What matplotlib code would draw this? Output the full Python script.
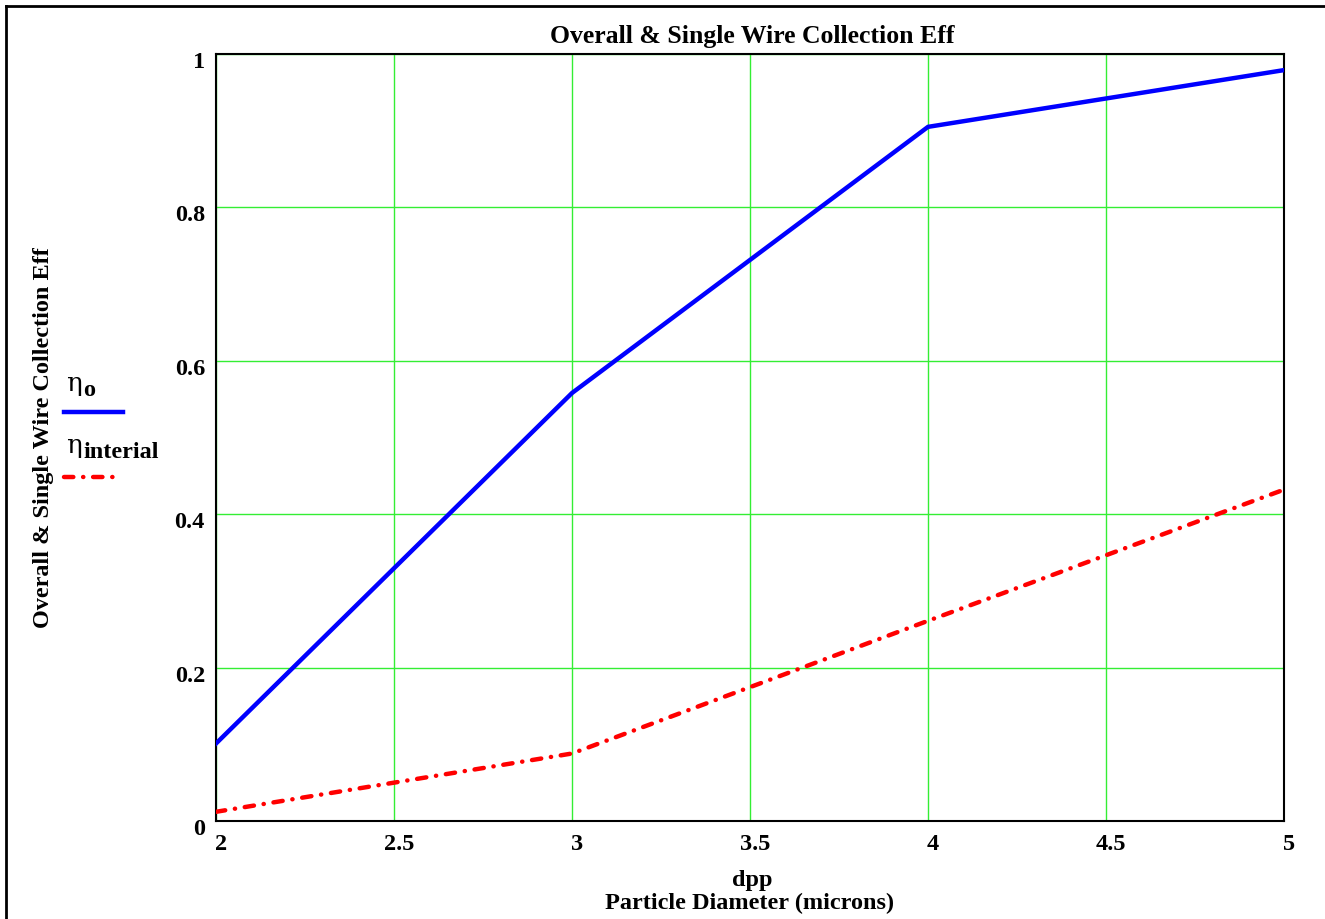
import matplotlib
matplotlib.use("Agg")
import matplotlib.pyplot as plt
import matplotlib.transforms as mtransforms
from matplotlib.lines import Line2D

# ---- data ----
dpp = [2, 3, 4, 5]
eta_o = [0.101, 0.558, 0.905, 0.979]
eta_interial = [0.012, 0.088, 0.261, 0.432]
x_ticks = [2, 2.5, 3, 3.5, 4, 4.5, 5]
x_tick_labels = ["2", "2.5", "3", "3.5", "4", "4.5", "5"]
y_ticks = [0, 0.2, 0.4, 0.6, 0.8, 1]
y_tick_labels = ["0", "0.2", "0.4", "0.6", "0.8", "1"]

plt.rcParams['font.family'] = ['Liberation Serif', 'DejaVu Serif']
plt.rcParams['font.weight'] = 'bold'

FS = 17.5
W, H = 1325, 920
fig = plt.figure(figsize=(W / 100, H / 100), dpi=100)
ax = fig.add_axes([216 / W, 1 - 822 / H, (1284 - 216) / W, (822 - 55) / H])

ax.plot(dpp, eta_o, color='#0000ff', lw=3.2, solid_joinstyle='miter', zorder=3)
ax.plot(dpp, eta_interial, color='#ff0000', lw=3.2,
        linestyle=(0, (2.1, 2.2, 0.05, 2.2)), dash_capstyle='round', zorder=3)

ax.set_xlim(2, 5)
ax.set_ylim(0, 1)
ax.set_xticks(x_ticks)
ax.set_xticklabels(x_tick_labels, fontsize=FS, fontweight='bold')
ax.set_yticks(y_ticks)
ax.set_yticklabels(y_tick_labels, fontsize=FS, fontweight='bold')
ax.tick_params(axis='both', length=0)
ax.tick_params(axis='x', pad=9)
ax.tick_params(axis='y', pad=8)
ax.grid(True, color='#33ee33', lw=1.0)
for s in ax.spines.values():
    s.set_color('black')
    s.set_linewidth(1.5)

# label offsets like reference
dx = mtransforms.ScaledTranslation(5 / 100, 0, fig.dpi_scale_trans)
for lab in ax.get_xticklabels():
    lab.set_transform(lab.get_transform() + dx)
dy = mtransforms.ScaledTranslation(0, -5 / 100, fig.dpi_scale_trans)
for lab in ax.get_yticklabels():
    lab.set_transform(lab.get_transform() + dy)

# title and axis labels
fig.text(752 / W, 1 - 37 / H, "Overall & Single Wire Collection Eff",
         ha='center', va='center', fontsize=18.5, fontweight='bold')
fig.text(752 / W, 1 - 881 / H, "dpp", ha='center', va='center',
         fontsize=FS, fontweight='bold')
fig.text(750 / W, 1 - 903 / H, "Particle Diameter (microns)", ha='center',
         va='center', fontsize=FS, fontweight='bold')
fig.text(44 / W, 1 - 438 / H, "Overall & Single Wire Collection Eff",
         ha='center', va='center', rotation=90, fontsize=FS, fontweight='bold')

# legend (left side)
fig.text(66 / W, 1 - 384 / H, "η", ha='left', va='center', fontsize=19,
         fontweight='normal', family=['DejaVu Serif'])
fig.text(83 / W, 1 - 390 / H, "o", ha='left', va='center', fontsize=FS,
         fontweight='bold')
fig.add_artist(Line2D([64 / W, 123 / W], [1 - 413 / H, 1 - 413 / H],
                      transform=fig.transFigure, color='#0000ff', lw=3.2))
fig.text(66 / W, 1 - 446 / H, "η", ha='left', va='center', fontsize=19,
         fontweight='normal', family=['DejaVu Serif'])
fig.text(83 / W, 1 - 453 / H, "interial", ha='left', va='center', fontsize=FS,
         fontweight='bold')
fig.add_artist(Line2D([64 / W, 117 / W], [1 - 478 / H, 1 - 478 / H],
                      transform=fig.transFigure, color='#ff0000', lw=3.2,
                      linestyle=(0, (2.1, 2.2, 0.05, 2.2)), dash_capstyle='round'))

# outer frame (top and left edges)
fig.add_artist(Line2D([6 / W, 1.0], [1 - 6.5 / H, 1 - 6.5 / H],
                      transform=fig.transFigure, color='black', lw=2.0))
fig.add_artist(Line2D([6 / W, 6 / W], [1 - 6.5 / H, 0.0],
                      transform=fig.transFigure, color='black', lw=2.0))

fig.savefig("out.png", dpi=100, facecolor='white')
